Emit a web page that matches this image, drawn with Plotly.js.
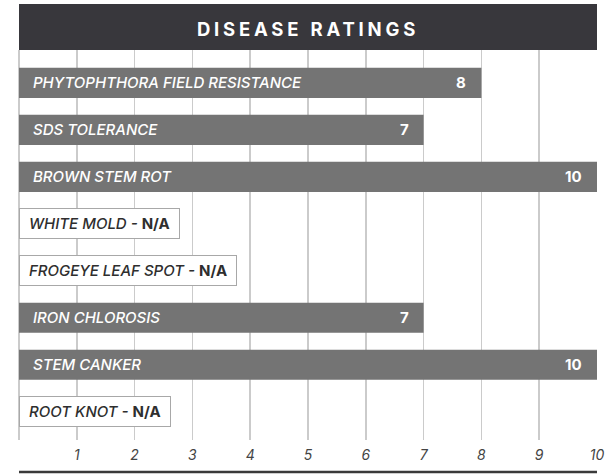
<!DOCTYPE html>
<html>
<head>
<meta charset="utf-8">
<script src="https://cdn.plot.ly/plotly-3.0.1.min.js"></script>
<style>
  html, body { margin: 0; padding: 0; background: #fff; }
  #chart { width: 611px; height: 474px; }
  .gtitle { letter-spacing: 3.8px; }
</style>
</head>
<body>
<div id="chart"></div>
<script>
// ---- data ----
const categories = [
  "PHYTOPHTHORA FIELD RESISTANCE",
  "SDS TOLERANCE",
  "BROWN STEM ROT",
  "WHITE MOLD",
  "FROGEYE LEAF SPOT",
  "IRON CHLOROSIS",
  "STEM CANKER",
  "ROOT KNOT"
];
const ratings = [8, 7, 10, null, null, 7, 10, null];
const tickValues = [1, 2, 3, 4, 5, 6, 7, 8, 9, 10];
const tickLabels = ["1", "2", "3", "4", "5", "6", "7", "8", "9", "10"];
const naText = "N/A";
const chartTitle = "DISEASE RATINGS";

// ---- styles ----
const FONT = "Inter, 'Open Sans', sans-serif";
const BAR_COLOR = "#747474";
const HEADER_COLOR = "#38373c";
const GRID_COLOR = "#cbcbcb";

const plotTop = 50, plotBottom = 440, plotH = plotBottom - plotTop;

const trace = {
  type: "bar",
  orientation: "h",
  y: categories,
  x: ratings.map(v => v === null ? 0 : v),
  marker: { color: BAR_COLOR, line: { width: 0 } },
  hoverinfo: "skip",
  showlegend: false
};

const annotations = [];
categories.forEach((c, i) => {
  const v = ratings[i];
  if (v !== null) {
    annotations.push({
      x: 0, y: c, xref: "x", yref: "y",
      xanchor: "left", yanchor: "middle", xshift: 12,
      text: "<i>" + c + "</i>",
      showarrow: false,
      font: { family: FONT, size: 15, color: "#ffffff", weight: 500 }
    });
    annotations.push({
      x: v, y: c, xref: "x", yref: "y",
      xanchor: "right", yanchor: "middle", xshift: -13,
      text: "<b>" + v + "</b>",
      showarrow: false,
      font: { family: FONT, size: 15, color: "#ffffff", weight: 900 }
    });
  } else {
    annotations.push({
      x: 0, y: c, xref: "x", yref: "y",
      xanchor: "left", yanchor: "middle",
      text: "&nbsp;<i>" + c + " - </i><b>" + naText + "</b>&nbsp;",
      showarrow: false,
      bgcolor: "#ffffff",
      bordercolor: "#a8a8a8",
      borderwidth: 1,
      borderpad: 5,
      font: { family: FONT, size: 15, color: "#2e2e2e", weight: 500 }
    });
  }
});

const layout = {
  width: 611,
  height: 474,
  paper_bgcolor: "#ffffff",
  plot_bgcolor: "#ffffff",
  margin: { l: 19, r: 14, t: plotTop, b: 474 - plotBottom, pad: 0 },
  title: {
    text: "<b>" + chartTitle + "</b>",
    x: 0.5, xref: "paper", xanchor: "center",
    y: 1 - 29.5 / 474, yref: "container", yanchor: "middle",
    font: { family: FONT, size: 18.5, color: "#ffffff", weight: 800 }
  },
  bargap: 0.36,
  xaxis: {
    range: [0, 10],
    fixedrange: true,
    tickvals: tickValues,
    ticktext: tickLabels,
    ticks: "outside",
    ticklen: 2,
    tickcolor: "rgba(0,0,0,0)",
    showgrid: true,
    gridcolor: GRID_COLOR,
    gridwidth: 1.5,
    zeroline: true,
    zerolinecolor: GRID_COLOR,
    zerolinewidth: 1.5,
    showline: false,
    tickfont: { family: FONT, size: 14, color: "#444444", style: "italic" }
  },
  yaxis: {
    type: "category",
    categoryorder: "array",
    categoryarray: categories,
    range: [7.6, -0.7],
    showticklabels: false,
    showgrid: false,
    zeroline: false,
    showline: false,
    ticks: "",
    fixedrange: true
  },
  shapes: [
    {
      type: "rect", xref: "paper", yref: "paper",
      x0: 0, x1: 1, y0: 1, y1: 1 + 46 / plotH,
      fillcolor: HEADER_COLOR, line: { width: 0 }, layer: "below"
    },
    {
      type: "line", xref: "paper", yref: "paper",
      x0: 0, x1: 1, y0: -(472 - plotBottom) / plotH, y1: -(472 - plotBottom) / plotH,
      line: { color: "#3a3a3a", width: 2.5 }
    }
  ],
  annotations: annotations
};

Plotly.newPlot("chart", [trace], layout, { displayModeBar: false, staticPlot: true });
</script>
</body>
</html>
